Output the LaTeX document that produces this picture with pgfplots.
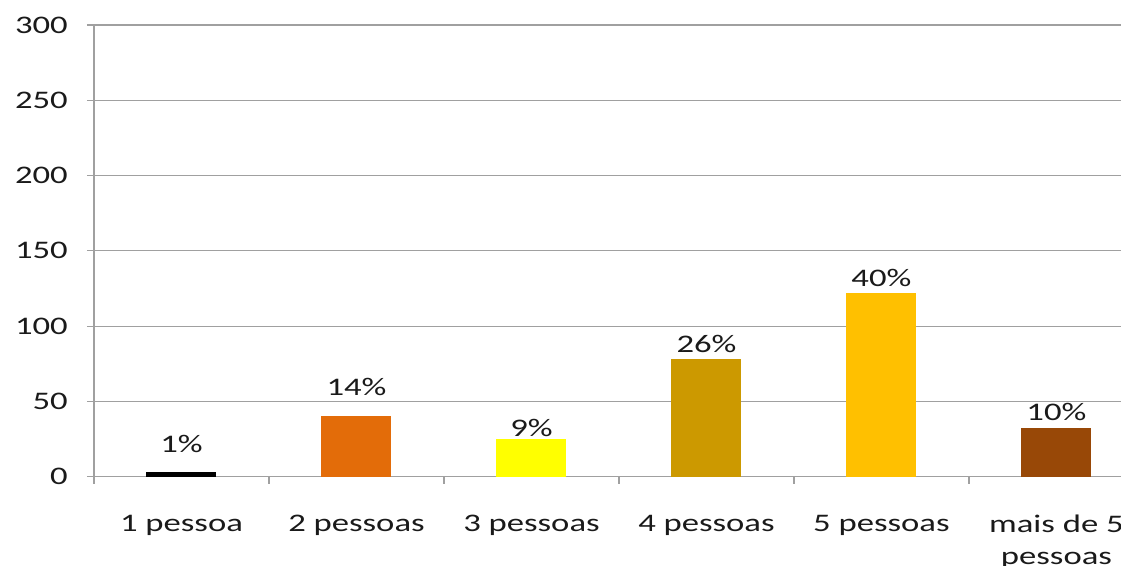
\documentclass[border=0pt]{standalone}
\usepackage{pgfplots}
\pgfplotsset{compat=1.18}
\usepackage{fontspec}
\setmainfont[FakeStretch=1.37]{Carlito}
\definecolor{gridc}{HTML}{A0A0A0}
\definecolor{textc}{HTML}{1A1A1A}
\definecolor{cA}{HTML}{000000}
\definecolor{cB}{HTML}{E36C09}
\definecolor{cC}{HTML}{FFFF00}
\definecolor{cD}{HTML}{CC9900}
\definecolor{cE}{HTML}{FFC000}
\definecolor{cF}{HTML}{984807}
\begin{document}
\fontsize{25.3}{31.7}\selectfont
\begin{tikzpicture}
\begin{axis}[
  scale only axis, width=1050pt, height=451.7pt,
  xmin=-0.5, xmax=5.5, ymin=0, ymax=300,
  axis x line*=bottom, axis y line*=left,
  axis line style={gridc, line width=1.2pt},
  ytick={0,50,...,300}, ymajorgrids,
  grid style={gridc, line width=1.2pt},
  xtick={-0.5,0.5,1.5,2.5,3.5,4.5,5.5},
  x tick label as interval,
  xticklabels={1 pessoa, 2 pessoas, 3 pessoas, 4 pessoas, 5 pessoas, {mais de 5\\pessoas}},
  xticklabel style={align=center, text=textc, anchor=north, inner sep=0pt, yshift=-31pt},
  yticklabel style={text=textc, anchor=east, inner sep=0pt, xshift=-19pt},
  tick align=outside, major tick length=7pt,
  tick style={gridc, line width=1.2pt},
  /pgf/number format/assume math mode=true,
  ybar, bar width=70pt, bar shift=0pt,
  nodes near coords style={text=textc, anchor=south, inner sep=0pt},
  every axis plot/.append style={draw=none},
]
\addplot[fill=cA, nodes near coords={1\%}, nodes near coords style={yshift=19.6pt}] coordinates {(0,3)};
\addplot[fill=cB, nodes near coords={14\%}, nodes near coords style={yshift=20pt}] coordinates {(1,40.5)};
\addplot[fill=cC, nodes near coords={9\%}, nodes near coords style={yshift=2.3pt}] coordinates {(2,25)};
\addplot[fill=cD, nodes near coords={26\%}, nodes near coords style={yshift=6pt}] coordinates {(3,78)};
\addplot[fill=cE, nodes near coords={40\%}, nodes near coords style={yshift=6pt}] coordinates {(4,122)};
\addplot[fill=cF, nodes near coords={10\%}, nodes near coords style={yshift=7pt}] coordinates {(5,32.3)};
\end{axis}
\pgfresetboundingbox
\path (current axis.south west) ++(-94pt,-88.3pt) rectangle ++(1121pt,565pt);
\end{tikzpicture}
\end{document}
